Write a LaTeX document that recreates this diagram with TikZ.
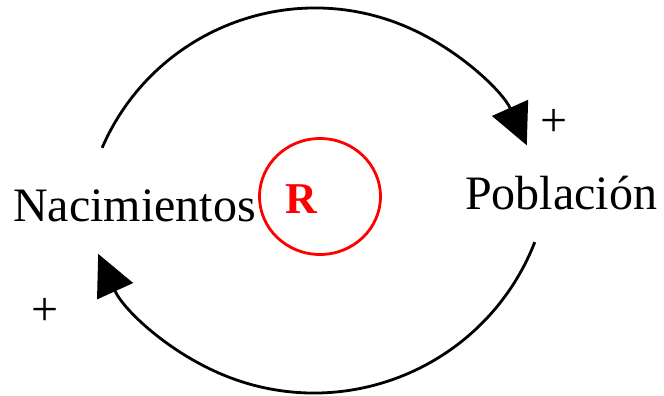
\documentclass[tikz,border=0pt]{standalone}
\usepackage{fontspec}
\setmainfont{Liberation Serif}
\usetikzlibrary{arrows.meta,shapes.geometric}
\begin{document}
\begin{tikzpicture}[x=1pt,y=1pt,
  label/.style={font=\fontsize{48}{50}\selectfont, inner sep=0pt},
  sign/.style={font=\fontsize{48}{50}\selectfont, inner sep=0pt, anchor=center},
  link/.style={line width=2.8pt, -{Triangle[length=41pt,width=39pt]}},
  loopmark/.style={draw=red, line width=2.8pt, ellipse, minimum width=121pt, minimum height=116pt, inner sep=0pt}
]
\useasboundingbox (0,0) rectangle (664,396);
\node[label, anchor=base west] (nac) at (13,174) {Nacimientos};
\node[label, anchor=base west] (pob) at (465,186) {Población};
\node[loopmark] (loop) at (320,199.5) {};
\node[font=\fontsize{44}{48}\selectfont\bfseries, text=red, inner sep=0pt, anchor=base] (r) at (301,182) {R};
\node[sign] (p1) at (554,273) {+};
\node[sign] (p2) at (45,84) {+};
\coordinate (t1) at ({315+232*cos(156.6)},{156+232*sin(156.6)});
\coordinate (b1) at ({314+237*cos(-21.3)},{240+237*sin(-21.3)});
\draw[link] (t1) arc[start angle=156.6, end angle=24.1, radius=232];
\draw[link] (b1) arc[start angle=-21.3, end angle=-155.6, radius=237];
\end{tikzpicture}
\end{document}
